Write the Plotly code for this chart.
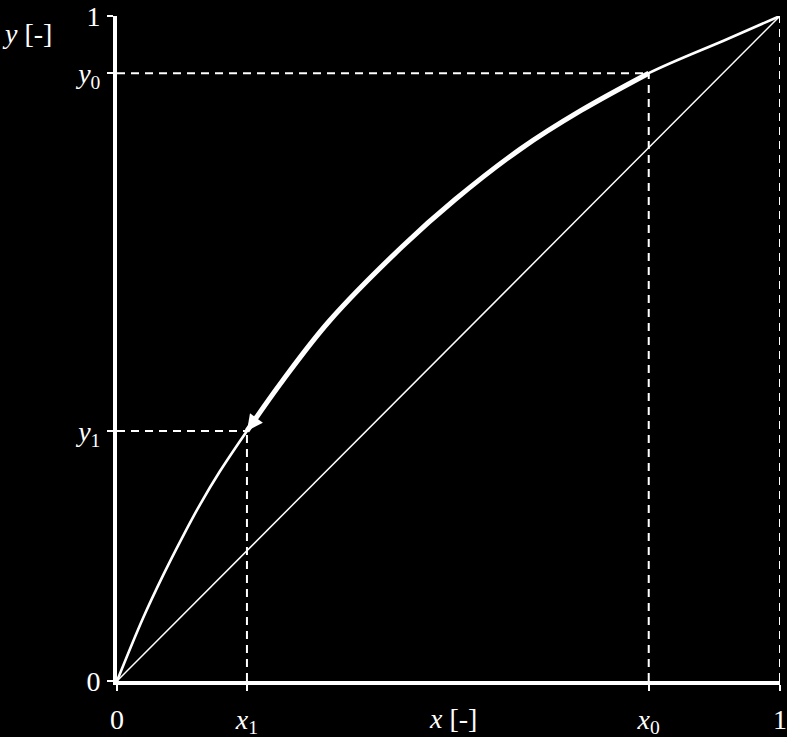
import plotly.graph_objects as go

# Equilibrium curve points
x_eq = [0.0, 0.039, 0.070, 0.098, 0.125, 0.155, 0.196, 0.25, 0.32, 0.43, 0.51, 0.61, 0.70, 0.802, 0.92, 1.0]
y_eq = [0.0, 0.094, 0.160, 0.215, 0.265, 0.315, 0.376, 0.452, 0.541, 0.653, 0.724, 0.801, 0.858, 0.914, 0.965, 1.0]

# Marked points
x1, y1 = 0.196, 0.376
x0, y0 = 0.802, 0.914

x_ticks = [0, x1, x0, 1]
x_ticktext = ["0", "<i>x</i><sub>1</sub>", "<i>x</i><sub>0</sub>", "1"]
y_ticks = [0, y1, y0, 1]
y_ticktext = ["0", "<i>y</i><sub>1</sub>", "<i>y</i><sub>0</sub>", "1"]

FONT = "Liberation Serif"
W = "white"

fig = go.Figure()

# diagonal
fig.add_trace(go.Scatter(x=[0, 1], y=[0, 1], mode="lines",
                         line=dict(color=W, width=1.5), cliponaxis=False, hoverinfo="skip"))
# equilibrium curve (thin)
fig.add_trace(go.Scatter(x=x_eq, y=y_eq, mode="lines", line_shape="spline",
                         line=dict(color=W, width=2.6), cliponaxis=False, hoverinfo="skip"))
# thick segment from x0 to x1
i1 = x_eq.index(x1)
i0 = x_eq.index(x0)
fig.add_trace(go.Scatter(x=x_eq[i1:i0 + 1], y=y_eq[i1:i0 + 1], mode="lines", line_shape="spline",
                         line=dict(color=W, width=5), cliponaxis=False, hoverinfo="skip"))

dash = "8px,6px"
for xs, ys in [([0, x0], [y0, y0]), ([x0, x0], [0, y0]),
               ([0, x1], [y1, y1]), ([x1, x1], [0, y1]),
               ([1, 1], [0, 1])]:
    fig.add_trace(go.Scatter(x=xs, y=ys, mode="lines",
                             line=dict(color=W, width=2, dash=dash),
                             cliponaxis=False, hoverinfo="skip"))

# arrow head at (x1, y1)
fig.add_annotation(x=x1, y=y1, ax=14, ay=-19, xref="x", yref="y",
                   showarrow=True, arrowhead=2, arrowsize=1.6, arrowwidth=2,
                   arrowcolor=W, text="")

# axis titles
fig.add_annotation(x=0.507, y=-0.056, xref="paper", yref="paper",
                   text="<i>x</i> [-]", showarrow=False,
                   xanchor="center", yanchor="middle",
                   font=dict(family=FONT, size=28, color=W))
fig.add_annotation(x=-0.176, y=0.974, xref="paper", yref="paper",
                   text="<i>y</i> [-]", showarrow=False,
                   xanchor="left", yanchor="middle",
                   font=dict(family=FONT, size=28, color=W))

axis_common = dict(range=[0, 1], showgrid=False, zeroline=False,
                   showline=True, linecolor=W, linewidth=4,
                   ticks="outside", tickcolor=W, ticklen=6, tickwidth=2,
                   automargin=False,
                   tickfont=dict(family=FONT, size=28, color=W))

fig.update_xaxes(tickvals=x_ticks, ticktext=x_ticktext, ticklabelstandoff=4, **axis_common)
fig.update_yaxes(tickvals=y_ticks, ticktext=y_ticktext, ticklabelstandoff=1, **axis_common)

fig.update_layout(width=787, height=737,
                  margin=dict(l=117, r=7, t=16, b=56),
                  paper_bgcolor="black", plot_bgcolor="black",
                  showlegend=False)

fig.write_html("out.html", config={"displayModeBar": False},
               post_script="document.body.style.margin='0';document.body.style.background='black';")
